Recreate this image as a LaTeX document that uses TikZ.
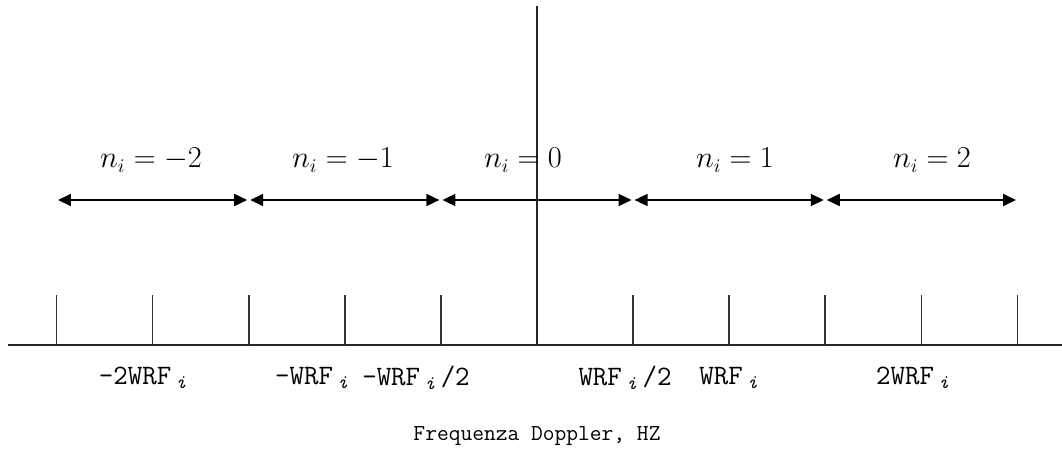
\documentclass[tikz,border=0pt]{standalone}
\usepackage{fontspec}
\setmainfont{Liberation Serif}
\usetikzlibrary{arrows.meta}

\begin{document}
\begin{tikzpicture}[
    x=0.02cm, y=-0.02cm,
    axis/.style={line width=1.1pt, color=black!85},
    tick/.style={line width=1pt, color=black!80},
    span/.style={{Triangle[length=0.26cm,width=0.24cm]}-{Triangle[length=0.26cm,width=0.24cm]},
                 line width=1pt, shorten <=0.03cm, shorten >=0.03cm},
    nlab/.style={font=\fontsize{16}{19}\selectfont},
    flab/.style={font=\ttfamily\fontsize{16}{19}\selectfont}
]
\useasboundingbox (0,0) rectangle (1062,459);

% axes
\coordinate (o) at (537,345);
\coordinate (xl) at (8,345);
\coordinate (xr) at (1062,345);
\coordinate (yt) at (537,6);
\draw[axis] (xl) -- (xr);
\draw[axis] (o) -- (yt);

% ticks
\foreach \k in {-5,-4,-3,-2,-1,1,2,3,4,5} {
  \coordinate (t\k) at (537+96.1*\k,345);
  \draw[tick] (t\k) -- ++(0,-50);
}

% intervals
\foreach \k in {-5,-3,-1,1,3,5}
  \coordinate (a\k) at (537+96.1*\k,200);
\foreach \a/\b in {-5/-3,-3/-1,-1/1,1/3,3/5}
  \draw[span] (a\a) -- (a\b);

\node[nlab] (n-2) at (151,160) {$n_i = -2$};
\node[nlab] (n-1) at (343,160) {$n_i = -1$};
\node[nlab] (n0) at (523,160) {$n_i = 0$};
\node[nlab] (n1) at (735,160) {$n_i = 1$};
\node[nlab] (n2) at (932,160) {$n_i = 2$};

% frequency labels
\node[flab] (f-2) at (143,378) {-2WRF\,\textsubscript{\textit{i}}};
\node[flab] (f-1) at (312,378) {-WRF\,\textsubscript{\textit{i}}};
\node[flab] (f-h) at (416,378) {-WRF\,\textsubscript{\textit{i}}\,/2};
\node[flab] (fh) at (625,378) {WRF\,\textsubscript{\textit{i}}\,/2};
\node[flab] (f1) at (729,378) {WRF\,\textsubscript{\textit{i}}};
\node[flab] (f2) at (913,378) {2WRF\,\textsubscript{\textit{i}}};

\node[font=\ttfamily\fontsize{13}{15}\selectfont] (title) at (537,436) {Frequenza Doppler, HZ};

\end{tikzpicture}
\end{document}
